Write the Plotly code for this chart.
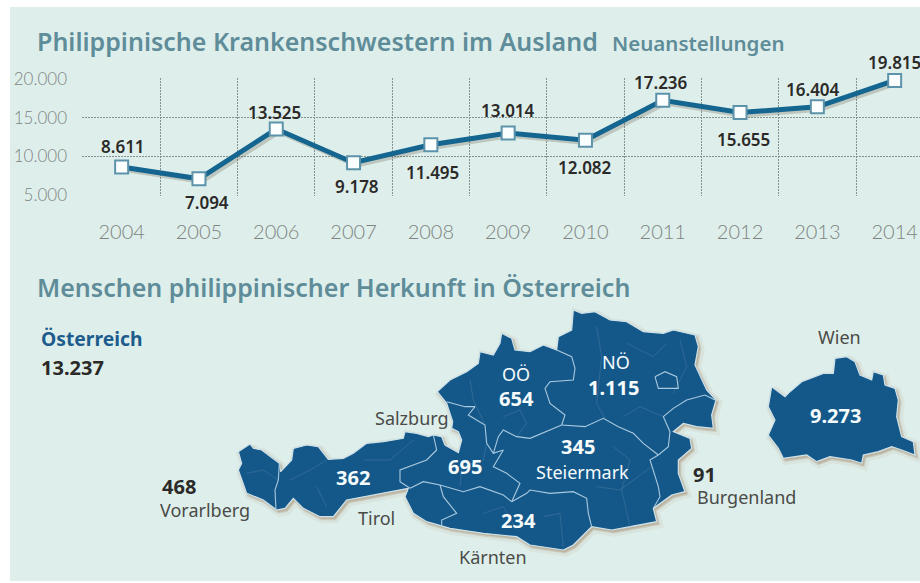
import plotly.graph_objects as go

years = list(range(2004, 2015))
nurses = [8611, 7094, 13525, 9178, 11495, 13014, 12082, 17236, 15655, 16404, 19815]
y_ticks = [5000, 10000, 15000, 20000]
y_tick_text = ["5.000", "10.000", "15.000", "20.000"]
label_offsets = [(1, 21), (8, -24), (-2, 17), (3, -24), (2, -28), (0, 23), (0, -27), (-2, 18), (3, -27), (-4, 17), (0, 18)]

regions = ["Vorarlberg", "Tirol", "Salzburg", "OÖ", "NÖ", "Steiermark", "Kärnten", "Burgenland", "Wien"]
region_values = [468, 362, 695, 654, 1115, 345, 234, 91, 9273]
total_value = 13237

outline_west = [(300,432),(310,445),(335,450),(360,470),(388,490),(392,515),(425,480),(430,445),(470,435),(505,440),(525,465),(535,478),(580,475),(610,460),(650,430),(700,425),(760,415),(765,395),(800,400),(835,410),(850,405),(875,410),(885,435),(925,458),(935,420),(925,395),(905,385),(908,365),(890,310),(862,275),(900,240),(950,215),(985,190),(990,155),(1030,165),(1050,130),(1055,100),(1085,115),(1095,150),(1140,155)]
outline_east = [(0,155),(40,135),(80,150),(85,110),(125,90),(130,30),(155,40),(195,35),(240,60),(290,65),(340,95),(400,100),(430,90),(495,105),(505,140),(495,195),(530,270),(558,300),(545,345),(550,385),(500,380),(460,370),(430,395),(480,415),(485,445),(445,480),(445,520),(465,575),(425,585),(370,625),(380,665),(300,680),(245,690),(185,680),(130,735),(100,750),(0,735)]
outline_south = [(1100,710),(1000,700),(900,685),(830,665),(790,640),(765,590),(775,565),(720,575),(640,590),(590,600),(550,650),(510,650),(460,625),(430,595),(405,625),(380,630),(340,600),(290,580),(265,510),(275,490),(265,455),(300,432)]

wien_outline = [(725,260),(765,290),(780,275),(815,245),(880,220),(910,220),(915,175),(950,170),(975,185),(990,225),(1025,240),(1030,215),(1060,225),(1065,255),(1095,265),(1105,300),(1100,350),(1115,410),(1150,425),(1155,465),(1115,450),(1085,440),(1045,455),(1000,465),(995,490),(965,480),(900,470),(860,485),(830,465),(790,470),(760,475),(745,445),(715,405),(735,360),(715,320),(725,260)]

E = 1140
borders = [
    [(388,490),(385,540),(375,570),(378,630)],
    [(850,405),(860,450),(830,480),(750,510),(750,545),(780,565)],
    [(780,565),(820,545),(870,555),(940,575),(990,560),(1060,585),(1085,605)],
    [(890,305),(945,320),(975,320),(955,345),(1005,375),(1010,430),(1030,460),(1060,450),(1030,500),(1070,520),(1110,550),(1085,605)],
    [(1030,460),(1045,410),(1060,390),(1100,410),(E,415),(E+35,400),(E+95,375)],
    [(E+80,150),(E+125,170),(E+135,205),(E+130,240),(E+60,245),(E+45,265),(E+60,310),(E+105,345),(E+95,375)],
    [(E+95,375),(E+165,380),(E+220,355),(E+265,380),(E+310,400),(E+340,430),(E+385,465)],
    [(E+385,465),(E+360,480),(E+385,560),(E+390,590),(E+370,625)],
    [(E+385,465),(E+415,440),(E+420,395),(E+400,350),(E+430,325),(E+470,300),(E+525,285),(E+555,300)],
    [(E+375,230),(E+405,215),(E+440,230),(E+445,265),(E+385,265),(E+375,230)],
    [(1085,605),(1130,580),(E,570),(E+60,580),(E+130,575),(E+170,595),(E+175,640),(E+185,680)],
    [(870,555),(880,590),(920,640),(875,660),(875,680)],
]
districts = [
    [(290,520),(340,510),(385,540)],
    [(420,540),(480,510),(530,480)],
    [(500,560),(530,620)],
    [(640,480),(720,480),(790,420)],
    [(930,560),(935,500),(1000,480),(1010,430)],
    [(960,240),(970,300),(1005,375)],
    [(1060,350),(1110,330),(1130,370),(1100,410)],
    [(E+200,80),(E+215,170),(E+200,310),(E+225,355)],
    [(E+290,130),(E+370,170),(E+410,130)],
    [(E+280,350),(E+330,320),(E+400,350)],
    [(E+450,120),(E+470,200),(E+430,280)],
    [(E+250,440),(E+300,480),(E+275,570),(E+300,680)],
    [(E+200,560),(E+270,570),(E+365,500)],
    [(1000,640),(1060,620),(1100,690)],
    [(E+40,650),(E+90,640),(E+100,740)],
]

outline = outline_west + [(x + E, y) for x, y in outline_east] + outline_south
wien = [(x + E, y) for x, y in wien_outline]

PANEL = "#deefeb"
HEAD = "#5e8c99"
BLUE = "#14588a"
LINE = "#14658f"
TEXT = "#2b2a28"
MUTED = "#7f8482"
LABEL = "#4a4b48"
GRID = "#839392"

fig = go.Figure()

fig.add_trace(go.Scatter(x=[y + 0.035 for y in years], y=[v - 330 for v in nurses], mode="lines",
                         line=dict(color="rgba(90,80,60,0.25)", width=5), hoverinfo="skip", cliponaxis=False))
fig.add_trace(go.Scatter(x=years, y=nurses, mode="lines+markers", line=dict(color=LINE, width=5),
                         marker=dict(symbol="square", size=13, color="#fbfefe", line=dict(color="#5d93aa", width=2)),
                         cliponaxis=False))

def poly(points, color, lw, fill=None, dx=0, dy=0):
    fig.add_trace(go.Scatter(x=[p[0] + dx for p in points], y=[p[1] + dy for p in points],
                             mode="lines", xaxis="x2", yaxis="y2",
                             fill="toself" if fill else None, fillcolor=fill,
                             line=dict(color=color, width=lw, shape="linear"), hoverinfo="skip"))

for shape in (outline, wien):
    poly(shape, "rgba(165,135,100,0.10)", 8, "rgba(165,135,100,0.12)", 7, 8)
    poly(shape, "rgba(150,120,85,0.22)", 3, "rgba(150,120,85,0.22)", 5, 6)
    poly(shape, "#cfe2ea", 1.2, BLUE)
for d in districts:
    poly(d, "#3c7199", 0.7)
for b in borders:
    poly(b, "#a9c9de", 1.1)

annotations = []
for yr, v, (dx, dy) in zip(years, nurses, label_offsets):
    annotations.append(dict(x=yr, y=v, xref="x", yref="y", xshift=dx, yshift=dy, showarrow=False,
                            text=f"{v:,}".replace(",", "."),
                            font=dict(family="Noto Sans", size=17, color=TEXT, weight=600)))

def paper_text(text, px, py, size, color, weight=400):
    annotations.append(dict(x=px / 920, y=1 - py / 583, xref="paper", yref="paper", xanchor="left", yanchor="middle",
                            showarrow=False, text=text, font=dict(family="Noto Sans", size=size, color=color, weight=weight)))

paper_text("Philippinische Krankenschwestern im Ausland", 35, 41, 25, HEAD, weight=600)
paper_text("Neuanstellungen", 610, 43, 20.5, HEAD, weight=600)
paper_text("Menschen philippinischer Herkunft in Österreich", 35, 287, 25, HEAD, weight=600)
paper_text("Österreich", 39, 338, 19.3, "#1d5c8c", weight=700)
paper_text(f"{total_value:,}".replace(",", "."), 39, 367, 20, TEXT, weight=700)

def fmt(name):
    return f"{region_values[regions.index(name)]:,}".replace(",", ".")

def map_text(text, x, y, size, color, weight=400):
    annotations.append(dict(x=x, y=y, xref="x2", yref="y2", showarrow=False, text=text,
                            font=dict(family="Noto Sans", size=size, color=color, weight=weight)))

WHITE = "#f6fbfb"
map_text("Salzburg", 785, 355, 18, LABEL)
map_text(fmt("Tirol"), 610, 532, 20, WHITE, 700)
map_text(fmt("Salzburg"), 945, 500, 20, WHITE, 700)
map_text("OÖ", 1098, 222, 18, WHITE)
map_text(fmt("OÖ"), 1100, 295, 20, WHITE, 700)
map_text(fmt("Vorarlberg"), 88, 558, 20, TEXT, 700)
map_text("Vorarlberg", 165, 630, 18, LABEL)
map_text("Tirol", 678, 655, 18, LABEL)
map_text("Kärnten", 1030, 770, 18, LABEL)
map_text(fmt("Kärnten"), 1105, 662, 20, WHITE, 700)
map_text("NÖ", E + 258, 185, 18, WHITE)
map_text(fmt("NÖ"), E + 250, 262, 20, WHITE, 700)
map_text(fmt("Steiermark"), E + 145, 440, 20, WHITE, 700)
map_text("Steiermark", E + 158, 516, 18, WHITE)
map_text(fmt("Burgenland"), E + 523, 522, 20, TEXT, 700)
map_text("Burgenland", E + 648, 592, 18, LABEL)
map_text("Wien", E + 928, 112, 18, LABEL)
map_text(fmt("Wien"), E + 917, 345, 20, WHITE, 700)

fig.update_layout(
    width=920, height=583, margin=dict(l=0, r=0, t=0, b=0, pad=0, autoexpand=False), showlegend=False,
    paper_bgcolor="white", plot_bgcolor="rgba(0,0,0,0)",
    annotations=annotations,
    shapes=[dict(type="rect", xref="paper", yref="paper", x0=10 / 920, x1=1, y0=1 - 581 / 583, y1=1 - 7 / 583,
                 fillcolor=PANEL, line_width=0, layer="below")],
    xaxis=dict(domain=[82 / 920, 1], range=[2003.487, 2014.328], tickmode="array", tickvals=years, automargin=False,
               showgrid=False, zeroline=False, showline=False, ticks="", ticklabelstandoff=22,
               tickfont=dict(family="Lato", size=20, color=MUTED, weight=300),
               minor=dict(tickmode="array", tickvals=[y - 0.5 for y in years], showgrid=True,
                          gridcolor=GRID, griddash="2px,1px", gridwidth=1, ticks="")),
    yaxis=dict(domain=[1 - 195.8 / 583, 1 - 78.2 / 583], range=[4900, 20100], tickmode="array", tickvals=y_ticks, automargin=False,
               ticktext=y_tick_text, showgrid=True, gridcolor=GRID, griddash="2px,1px", gridwidth=1,
               zeroline=False, showline=False, ticks="", ticklabelstandoff=14,
               tickfont=dict(family="Lato", size=17, color=MUTED, weight=300)),
    xaxis2=dict(domain=[0, 1], range=[-450, 2310], visible=False, anchor="y2", fixedrange=True, automargin=False),
    yaxis2=dict(domain=[0, 1], range=[849, -900], visible=False, anchor="x2", fixedrange=True, automargin=False),
)

fig.write_html("out.html", config=dict(displayModeBar=False),
               post_script="document.body.style.margin='0';document.body.style.overflow='hidden';")
